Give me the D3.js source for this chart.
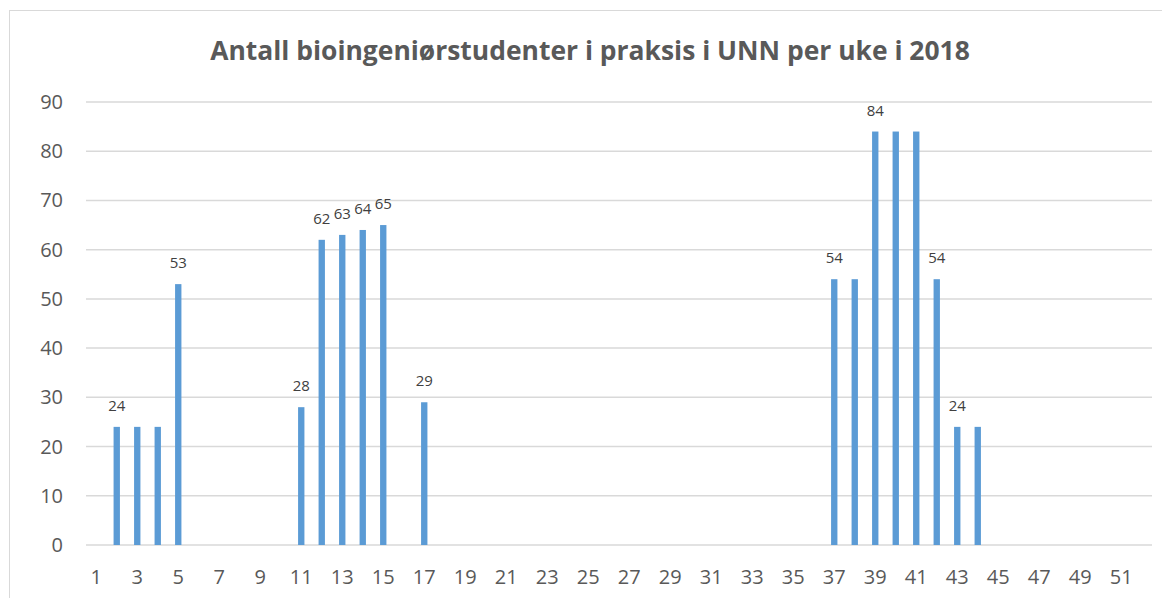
<!DOCTYPE html>
<html>
<head>
<meta charset="utf-8">
<script src="https://cdn.jsdelivr.net/npm/d3@7"></script>
<style>
  body { margin: 0; background: #fff; }
  svg text { font-family: "Open Sans", "DejaVu Sans", sans-serif; }
</style>
</head>
<body>
<svg id="chart"></svg>
<script>
(function() {
    // weeks 1..52 and students per week
    const weeks = d3.range(1, 53);
    const values = [
        0, 24, 24, 24, 53, 0, 0, 0, 0, 0,
        28, 62, 63, 64, 65, 0, 29, 0, 0, 0,
        0, 0, 0, 0, 0, 0, 0, 0, 0, 0,
        0, 0, 0, 0, 0, 0, 54, 54, 84, 84,
        84, 54, 24, 24, 0, 0, 0, 0, 0, 0,
        0, 0
    ];
    // weeks that carry a data label
    const labelledWeeks = [2, 5, 11, 12, 13, 14, 15, 17, 37, 39, 42, 43];
    const yTicks = [0, 10, 20, 30, 40, 50, 60, 70, 80, 90];
    const xTicks = weeks.filter(w => w % 2 === 1);
    const title = "Antall bioingeniørstudenter i praksis i UNN per uke i 2018";

    const width = 1162, height = 598;

    const data = weeks.map((w, i) => ({week: w, value: values[i]}));

    var svg = d3.select("#chart")
        .attr("width", width)
        .attr("height", height);

    // chart area border
    svg.append("rect")
        .attr("x", 9.5).attr("y", 10.5)
        .attr("width", 1300).attr("height", 800)
        .attr("fill", "none")
        .attr("stroke", "#d9d9d9")
        .attr("stroke-width", 1);

    var x = d3.scaleBand()
        .domain(weeks)
        .range([86, 1152])
        .paddingInner(0.69)
        .paddingOuter(0.345);

    var y = d3.scaleLinear()
        .domain([0, 90])
        .range([545, 102]);

    // gridlines
    svg.append("g")
        .selectAll("line")
        .data(yTicks)
        .enter()
        .append("line")
        .attr("x1", 86).attr("x2", 1152)
        .attr("y1", d => y(d)).attr("y2", d => y(d))
        .attr("stroke", "#d9d9d9")
        .attr("stroke-width", 1.5);

    // y tick labels
    svg.append("g")
        .selectAll("text")
        .data(yTicks)
        .enter()
        .append("text")
        .attr("x", 63)
        .attr("y", d => y(d))
        .attr("dy", "0.35em")
        .attr("text-anchor", "end")
        .attr("fill", "#595959")
        .style("font-size", "20px")
        .text(d => d);

    // x tick labels
    svg.append("g")
        .selectAll("text")
        .data(xTicks)
        .enter()
        .append("text")
        .attr("x", d => x(d) + x.bandwidth() / 2)
        .attr("y", 577)
        .attr("dy", "0.35em")
        .attr("text-anchor", "middle")
        .attr("fill", "#595959")
        .style("font-size", "20px")
        .text(d => d);

    // bars
    svg.append("g")
        .selectAll("rect")
        .data(data.filter(d => d.value > 0))
        .enter()
        .append("rect")
        .attr("x", d => x(d.week))
        .attr("width", x.bandwidth())
        .attr("y", d => y(d.value))
        .attr("height", d => y(0) - y(d.value))
        .attr("fill", "#5b9bd5");

    // data labels
    svg.append("g")
        .selectAll("text")
        .data(data.filter(d => labelledWeeks.includes(d.week)))
        .enter()
        .append("text")
        .attr("x", d => x(d.week) + x.bandwidth() / 2)
        .attr("y", d => y(d.value) - 16)
        .attr("text-anchor", "middle")
        .attr("fill", "#404040")
        .style("font-size", "15px")
        .text(d => d.value);

    // title, shrunk to the width it has in the reference
    var t = svg.append("text")
        .attr("x", 590)
        .attr("y", 51)
        .attr("dy", "0.35em")
        .attr("text-anchor", "middle")
        .attr("fill", "#595959")
        .style("font-size", "26px")
        .style("font-weight", "bold")
        .text(title);
    var len = t.node().getComputedTextLength();
    t.style("font-size", (26 * 760 / len) + "px");
})();
</script>
</body>
</html>
